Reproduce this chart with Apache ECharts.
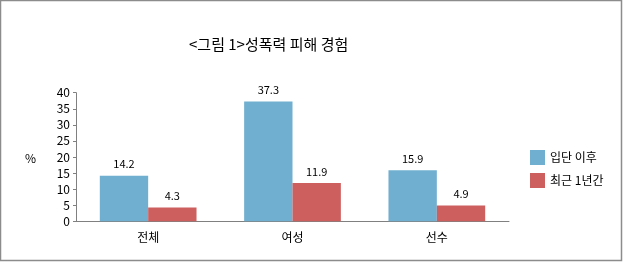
<!DOCTYPE html>
<html><head><meta charset="utf-8">
<script src="https://cdn.jsdelivr.net/npm/echarts@6/dist/echarts.min.js"></script>
<style>html,body{margin:0;padding:0;background:#fff}#c{width:623px;height:265px}</style>
</head><body><div id="c"></div>
<script>
const titleText = '<그림 1>성폭력 피해 경험';
const categories = ['전체', '여성', '선수'];
const seriesNames = ['입단 이후', '최근 1년간'];
const afterJoin = [14.2, 37.3, 15.9];
const lastYear = [4.3, 11.9, 4.9];
const yTicks = [0, 5, 10, 15, 20, 25, 30, 35, 40];

const font = "'Noto Sans CJK KR', 'Noto Sans', sans-serif";
const chart = echarts.init(document.getElementById('c'), null, {renderer: 'canvas'});
const lbl = {show: true, position: 'top', distance: 6, color: '#000', fontSize: 11, fontFamily: font};
chart.setOption({
  animation: false,
  textStyle: {fontFamily: font},
  title: {text: titleText, left: 184, top: 32, textStyle: {fontSize: 15, fontWeight: 'normal', color: '#000', fontFamily: font}},
  graphic: [
    {type: 'rect', shape: {x: 0.5, y: 0.5, width: 621, height: 260}, style: {fill: null, stroke: '#8c8c8c', lineWidth: 1.5}, silent: true},
    {type: 'text', left: 25, top: 152, style: {text: '%', fontSize: 12, fill: '#000', fontFamily: font}}
  ],
  legend: {
    orient: 'vertical', left: 525, top: 145, itemWidth: 15, itemHeight: 15, itemGap: 8,
    icon: 'rect', textStyle: {fontSize: 12, color: '#000', fontFamily: font},
    data: seriesNames
  },
  grid: {left: 76, right: 114, top: 92.7, bottom: 43.7, containLabel: false},
  xAxis: {
    type: 'category', data: categories,
    axisLine: {lineStyle: {color: '#808080'}},
    axisTick: {show: false},
    axisLabel: {color: '#000', fontSize: 12, margin: 10, fontFamily: font}
  },
  yAxis: {
    type: 'value', min: yTicks[0], max: yTicks[yTicks.length - 1], interval: 5,
    axisLine: {show: true, lineStyle: {color: '#808080'}},
    axisTick: {show: true, length: 3, lineStyle: {color: '#808080'}},
    splitLine: {show: false},
    axisLabel: {color: '#000', fontSize: 12, margin: 6, fontFamily: font}
  },
  series: [
    {name: seriesNames[0], type: 'bar', data: afterJoin, barGap: '0%', barCategoryGap: '33%', itemStyle: {color: '#70afd0'}, label: lbl},
    {name: seriesNames[1], type: 'bar', data: lastYear, itemStyle: {color: '#cd5f5f'}, label: lbl}
  ]
});
</script></body></html>
